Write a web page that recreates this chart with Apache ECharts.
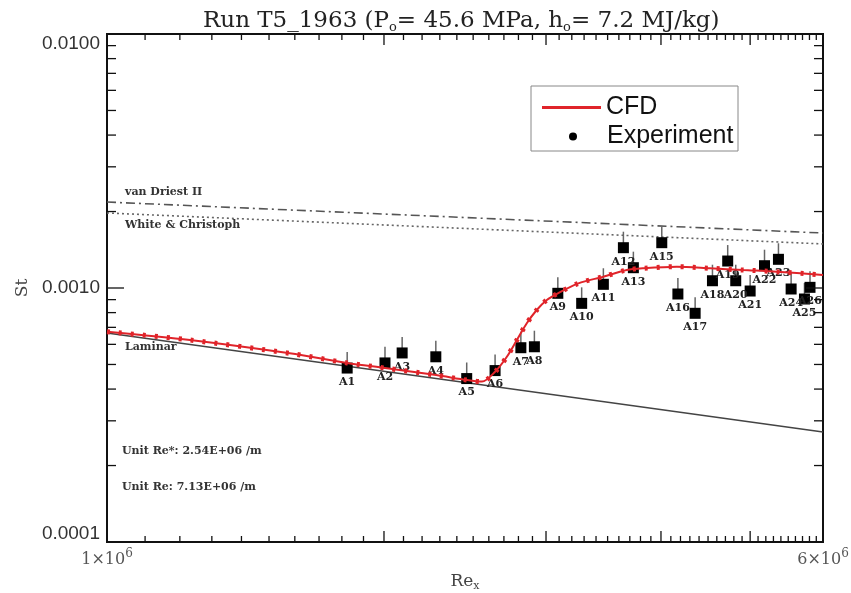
<!DOCTYPE html>
<html><head><meta charset="utf-8">
<script src="https://cdn.jsdelivr.net/npm/echarts@6/dist/echarts.min.js"></script>
<style>html,body{margin:0;padding:0;background:#fff}#c{width:851px;height:593px}</style>
</head><body><div id="c"></div>
<script>
// ---- data ----
const expLabels = ['A1','A2','A3','A4','A5','A6','A7','A8','A9','A10','A11','A12','A13','A15','A16','A17','A18','A19','A20','A21','A22','A23','A24','A25','A26'];
const expRe = [1.824e6,2.005e6,2.093e6,2.277e6,2.46e6,2.641e6,2.817e6,2.914e6,3.09e6,3.28e6,3.463e6,3.641e6,3.733e6,4.008e6,4.173e6,4.357e6,4.55e6,4.727e6,4.823e6,5.0e6,5.183e6,5.367e6,5.54e6,5.728e6,5.808e6];
const expSt = [4.84e-4,5.07e-4,5.55e-4,5.36e-4,4.40e-4,4.73e-4,5.82e-4,5.87e-4,9.53e-4,8.70e-4,1.034e-3,1.441e-3,1.202e-3,1.508e-3,9.47e-4,7.95e-4,1.068e-3,1.277e-3,1.068e-3,9.73e-4,1.224e-3,1.297e-3,9.91e-4,9.05e-4,1.006e-3];
const expStHigh = [5.6e-4,5.87e-4,6.42e-4,6.2e-4,5.09e-4,5.47e-4,6.73e-4,6.79e-4,1.102e-3,1.006e-3,1.196e-3,1.666e-3,1.39e-3,1.743e-3,1.095e-3,9.19e-4,1.235e-3,1.476e-3,1.235e-3,1.125e-3,1.415e-3,1.5e-3,1.146e-3,1.046e-3,1.163e-3];
const cfdRe = [1.0e6,1.231e6,1.58e6,1.824e6,2.005e6,2.279e6,2.462e6,2.556e6,2.641e6,2.72e6,2.789e6,2.859e6,2.931e6,3.006e6,3.09e6,3.253e6,3.463e6,3.672e6,3.828e6,4.162e6,4.523e6,4.916e6,5.345e6,6.0e6];
const cfdSt = [6.73e-4,6.24e-4,5.53e-4,5.07e-4,4.84e-4,4.54e-4,4.34e-4,4.28e-4,4.68e-4,5.36e-4,6.24e-4,7.26e-4,8.19e-4,8.97e-4,9.53e-4,1.043e-3,1.108e-3,1.177e-3,1.196e-3,1.213e-3,1.196e-3,1.177e-3,1.159e-3,1.125e-3];
const vanDriestRe = [1e6, 6e6];
const vanDriestSt = [2.18e-3, 1.646e-3];
const whiteRe = [1e6, 6e6];
const whiteSt = [1.974e-3, 1.491e-3];
const laminarRe = [1e6, 6e6];
const laminarSt = [6.65e-4, 2.71e-4];
const xMajorTicks = [2e6, 3e6, 4e6, 5e6];
const xMinorTicks = [1.1e6,1.2e6,1.3e6,1.4e6,1.5e6,1.6e6,1.7e6,1.8e6,1.9e6,
  2.1e6,2.2e6,2.3e6,2.4e6,2.5e6,2.6e6,2.7e6,2.8e6,2.9e6,
  3.1e6,3.2e6,3.3e6,3.4e6,3.5e6,3.6e6,3.7e6,3.8e6,3.9e6,
  4.1e6,4.2e6,4.3e6,4.4e6,4.5e6,4.6e6,4.7e6,4.8e6,4.9e6,
  5.1e6,5.2e6,5.3e6,5.4e6,5.5e6,5.6e6,5.7e6,5.8e6,5.9e6];
const yMajorTicks = [1e-3];
const yMinorTicks = [2e-4,3e-4,4e-4,5e-4,6e-4,7e-4,8e-4,9e-4,2e-3,3e-3,4e-3,5e-3,6e-3,7e-3,8e-3,9e-3];
const X_MIN = 1e6, X_MAX = 6e6, Y_MIN = 1e-4, Y_MAX = 1e-2;

const zip = (a, b) => a.map((v, i) => [v, b[i]]);
const serif = 'DejaVu Serif';
const RED = '#e0242a';

const xTickData = xMajorTicks.map(v => [v, 1e-3, 1]).concat(xMinorTicks.map(v => [v, 1e-3, 0]));
const yTickData = yMajorTicks.map(v => [2e6, v, 1]).concat(yMinorTicks.map(v => [2e6, v, 0]));
const annFont = 'bold 11px "DejaVu Serif"';

const chart = echarts.init(document.getElementById('c'), null, {renderer: 'canvas'});
chart.setOption({
  animation: false,
  backgroundColor: '#fff',
  title: {
    text: 'Run T5_1963 (P{s|o}= 45.6 MPa, h{s|o}= 7.2 MJ/kg)',
    left: 198, top: 3,
    textStyle: {fontFamily: serif, fontSize: 23, fontWeight: 'normal', color: '#222',
      rich: {s: {fontFamily: serif, fontSize: 13, color: '#222', padding: [13, 0, 0, 0]}}}
  },
  grid: {left: 107, right: 28, top: 34, bottom: 51, show: true, borderColor: '#111', borderWidth: 2,
         containLabel: false, outerBoundsMode: 'none'},
  legend: [
    {data: [{name: 'CFD', icon: 'rect'}], left: 537, top: 90, itemWidth: 59, itemHeight: 3,
     textStyle: {fontFamily: 'Liberation Sans', fontSize: 25, color: '#111'}, selectedMode: false},
    {data: [{name: 'Experiment', icon: 'circle'}], left: 564, top: 119, itemWidth: 8, itemHeight: 8,
     textStyle: {fontFamily: 'Liberation Sans', fontSize: 25, color: '#111', padding: [0, 0, 0, 25]}, selectedMode: false}
  ],
  graphic: [
    {type: 'rect', shape: {x: 531, y: 86, width: 207, height: 65}, style: {fill: 'none', stroke: '#888', lineWidth: 1}, z: 10},
    {type: 'text', left: 125, top: 187, style: {text: 'van Driest II', font: annFont, fill: '#333'}},
    {type: 'text', left: 125, top: 220, style: {text: 'White & Christoph', font: annFont, fill: '#333'}},
    {type: 'text', left: 125, top: 342, style: {text: 'Laminar', font: annFont, fill: '#333'}},
    {type: 'text', left: 122, top: 446, style: {text: 'Unit Re*: 2.54E+06 /m', font: annFont, fill: '#333'}},
    {type: 'text', left: 122, top: 482, style: {text: 'Unit Re: 7.13E+06 /m', font: annFont, fill: '#333'}}
  ],
  xAxis: {
    type: 'log', logBase: 10, min: X_MIN, max: X_MAX,
    name: '{n|Re}{sub|x}', nameLocation: 'middle', nameGap: 28,
    nameTextStyle: {rich: {n: {fontFamily: serif, fontSize: 17, color: '#444'}, sub: {fontFamily: serif, fontSize: 11, color: '#444', padding: [10, 0, 0, 0]}}},
    axisLine: {show: false}, axisTick: {show: false}, splitLine: {show: false},
    axisLabel: {
      margin: 6,
      formatter: v => '{n|' + Math.round(v / 1e6) + '×10}{sup|6}',
      rich: {n: {fontFamily: serif, fontSize: 16, color: '#555'}, sup: {fontFamily: serif, fontSize: 12, color: '#555', padding: [0, 0, 12, 0]}}
    }
  },
  yAxis: {
    type: 'log', logBase: 10, min: Y_MIN, max: Y_MAX,
    name: 'St', nameLocation: 'middle', nameGap: 76, nameRotate: 90,
    nameTextStyle: {fontFamily: serif, fontSize: 17, color: '#444'},
    axisLine: {show: false}, axisTick: {show: false}, splitLine: {show: false},
    axisLabel: {
      margin: 7,
      formatter: v => {
        const s = v.toFixed(4);
        if (v > 5e-3) return '{t|' + s + '}';
        if (v < 5e-4) return '{b|' + s + '}';
        return '{m|' + s + '}';
      },
      rich: {
        t: {fontFamily: 'Liberation Sans', fontSize: 19, color: '#333', padding: [20, 0, 0, 0]},
        b: {fontFamily: 'Liberation Sans', fontSize: 19, color: '#333', padding: [0, 0, 16, 0]},
        m: {fontFamily: 'Liberation Sans', fontSize: 19, color: '#333'}
      }
    }
  },
  series: [
    {type: 'line', name: 'van Driest II', data: zip(vanDriestRe, vanDriestSt), symbol: 'none', silent: true, z: 2,
     lineStyle: {color: '#555', width: 1.6, type: [9, 4, 2, 4]}},
    {type: 'line', name: 'White & Christoph', data: zip(whiteRe, whiteSt), symbol: 'none', silent: true, z: 2,
     lineStyle: {color: '#666', width: 1.6, type: [2, 3]}},
    {type: 'line', name: 'Laminar', data: zip(laminarRe, laminarSt), symbol: 'none', silent: true, z: 2,
     lineStyle: {color: '#444', width: 1.4}},
    {type: 'custom', name: 'xticks', data: xTickData, encode: {x: 0, y: 1}, silent: true, z: 6,
     renderItem: (params, api) => {
       const v = api.value(0), major = api.value(2);
       const pb = api.coord([v, Y_MIN]), pt = api.coord([v, Y_MAX]);
       const len = major ? 11 : 6;
       const st = {stroke: '#111', lineWidth: 1.3};
       return {type: 'group', children: [
         {type: 'line', shape: {x1: pb[0], y1: pb[1], x2: pb[0], y2: pb[1] - len}, style: st},
         {type: 'line', shape: {x1: pt[0], y1: pt[1], x2: pt[0], y2: pt[1] + len}, style: st}
       ]};
     }},
    {type: 'custom', name: 'yticks', data: yTickData, encode: {x: 0, y: 1}, silent: true, z: 6,
     renderItem: (params, api) => {
       const v = api.value(1), major = api.value(2);
       const pl = api.coord([X_MIN, v]), pr = api.coord([X_MAX, v]);
       const len = major ? 17 : 9;
       const st = {stroke: '#111', lineWidth: 1.3};
       return {type: 'group', children: [
         {type: 'line', shape: {x1: pl[0], y1: pl[1], x2: pl[0] + len, y2: pl[1]}, style: st},
         {type: 'line', shape: {x1: pr[0], y1: pr[1], x2: pr[0] - len, y2: pr[1]}, style: st}
       ]};
     }},
    {type: 'custom', name: 'errors', data: expRe.map((x, i) => [x, expSt[i], expStHigh[i]]), encode: {x: 0, y: [1, 2]}, silent: true, z: 3,
     renderItem: (params, api) => {
       const p1 = api.coord([api.value(0), api.value(1)]), p2 = api.coord([api.value(0), api.value(2)]);
       return {type: 'line', shape: {x1: p1[0], y1: p1[1], x2: p2[0], y2: p2[1]}, style: {stroke: '#666', lineWidth: 1.5}};
     }},
    {type: 'scatter', name: 'Experiment', data: zip(expRe, expSt), symbol: 'rect', symbolSize: 11, z: 4,
     itemStyle: {color: '#000', opacity: 1},
     label: {show: true, position: 'bottom', distance: 3, formatter: p => expLabels[p.dataIndex],
       fontFamily: serif, fontWeight: 'bold', fontSize: 11, color: '#222'}},
    {type: 'line', name: 'CFD', data: zip(cfdRe, cfdSt), symbol: 'none', smooth: 0.3, z: 5, color: RED,
     lineStyle: {color: RED, width: 2}},
    {type: 'line', name: 'CFD', data: zip(cfdRe, cfdSt), symbol: 'none', smooth: 0.3, z: 5, color: RED,
     lineStyle: {color: RED, width: 5, type: [3, 9]}}
  ]
});
</script></body></html>
